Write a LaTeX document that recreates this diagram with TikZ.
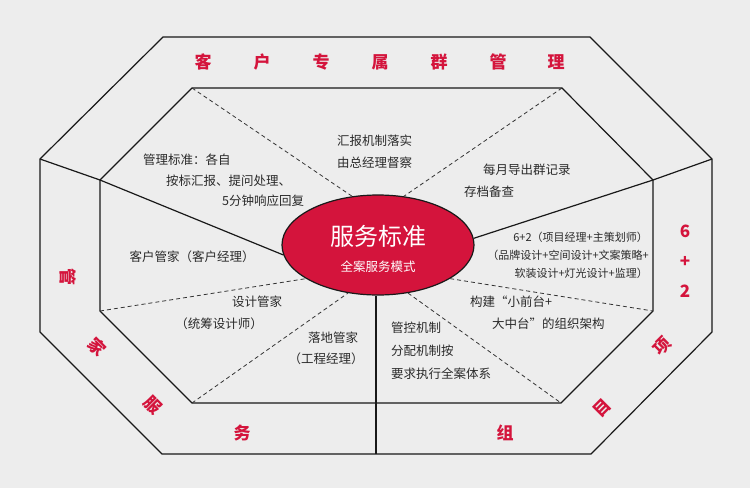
\documentclass[tikz,border=0pt]{standalone}
\usepackage{fontspec}
\usetikzlibrary{shapes.geometric}
\setmainfont{Noto Sans CJK SC}
\definecolor{redc}{HTML}{D4143C}
\definecolor{bgc}{HTML}{EDEDED}
\definecolor{txt}{HTML}{2A2A2A}
\begin{document}
\begin{tikzpicture}[x=1pt,y=-1pt,
  solidl/.style={line width=1.2pt,draw=black!90},
  dashl/.style={line width=0.8pt,draw=black!80,dash pattern=on 4pt off 3pt},
  body/.style={font=\fontsize{12.5}{14}\selectfont,text=txt,inner sep=0pt},
  band/.style={font=\fontsize{17}{18}\selectfont\bfseries,text=redc,inner sep=0pt}]
\fill[bgc] (0,0) rectangle (750,488);
\useasboundingbox (0,0) rectangle (750,488);
% octagons
\draw[solidl] (163,37) -- (590,37) -- (712,159) -- (712,332) -- (591,454) -- (162,454) -- (40,332) -- (40,159) -- cycle;
\draw[solidl] (192,88) -- (562,88) -- (653,180) -- (653,311) -- (561,403) -- (192,403) -- (100,311) -- (100,180) -- cycle;
\coordinate (oL) at (40,159); \coordinate (iL) at (100,180);
\coordinate (oR) at (712,159); \coordinate (iR) at (653,180);
\draw[solidl] (oL) -- (iL); \draw[solidl] (oR) -- (iR);
\draw[solidl] (376,403) -- (376,454);
% ellipse
\node[ellipse,draw=black!90,line width=1.2pt,fill=redc,minimum width=192pt,minimum height=100pt,inner sep=0pt] (E) at (378,245) {};
\draw[solidl] (iL) -- (E.186);
\draw[solidl] (E.4) -- (iR);
\draw[solidl] (E.south) ++(-2,0) coordinate (eb) (eb) -- (376,403);
% dashed spokes
\draw[dashl] (192,88) -- (E.118);
\draw[dashl] (562,88) -- (E.62);
\draw[dashl] (100,311) -- (E.205);
\draw[dashl] (192,403) -- (E.238);
\draw[dashl] (E.335) -- (653,311);
\draw[dashl] (E.302) -- (561,403);
% ellipse text
\node[text=white,font=\fontsize{24}{26}\selectfont,inner sep=0pt] (t1) at (378,236) {服务标准};
\node[text=white,font=\fontsize{12.5}{14}\selectfont,inner sep=0pt] (t2) at (378,267) {全案服务模式};
% band top
\node[band] (b1) at (203,62) {客};
\node[band] (b2) at (262,62) {户};
\node[band] (b3) at (321,62) {专};
\node[band] (b4) at (380,62) {属};
\node[band] (b5) at (439,62) {群};
\node[band] (b6) at (498,62) {管};
\node[band] (b7) at (556,62) {理};
% left band
\node[band,rotate=-90] (l1) at (68,277) {管};
\node[band,rotate=-45] (l2) at (97,347) {家};
\node[band,rotate=-45] (l3) at (153,405) {服};
\node[band] (l4) at (242,433) {务};
% right band
\node[band] (r1) at (685,231) {6};
\node[band] (r2) at (685,262) {+};
\node[band] (r3) at (685,291) {2};
\node[band,rotate=45] (r4) at (662,346) {项};
\node[band,rotate=45] (r5) at (602,408) {目};
\node[band] (r6) at (505,433) {组};
% body texts
\node[body,anchor=west] (a1) at (143,160) {管理标准：各自};
\node[body,anchor=west] (a2) at (166,181) {按标汇报、提问处理、};
\node[body,anchor=west] (a3) at (222,201) {5分钟响应回复};
\node[body,anchor=west] (c1) at (337,141) {汇报机制落实};
\node[body,anchor=west] (c2) at (337,163) {由总经理督察};
\node[body,anchor=west] (d1) at (483,170) {每月导出群记录};
\node[body,anchor=west] (d2) at (464,192) {存档备查};
\node[body,anchor=east,font=\fontsize{11}{13}\selectfont] (e1) at (648,237) {6+2（项目经理+主策划师）};
\node[body,anchor=east,font=\fontsize{11}{13}\selectfont] (e2) at (649,255) {（品牌设计+空间设计+文案策略+};
\node[body,anchor=east,font=\fontsize{11}{13}\selectfont] (e3) at (648,273) {软装设计+灯光设计+监理）};
\node[body,anchor=west] (f1) at (470,302) {构建“小前台+};
\node[body,anchor=west] (f2) at (492,324) {大中台”的组织架构};
\node[body,anchor=west] (g1) at (391,328) {管控机制};
\node[body,anchor=west] (g2) at (391,351) {分配机制按};
\node[body,anchor=west] (g3) at (391,374) {要求执行全案体系};
\node[body] (h1) at (333,338) {落地管家};
\node[body] (h2) at (326,359) {（工程经理）};
\node[body] (i1) at (257,302) {设计管家};
\node[body] (i2) at (219,324) {（统筹设计师）};
\node[body] (j1) at (192,257) {客户管家（客户经理）};
\end{tikzpicture}
\end{document}
